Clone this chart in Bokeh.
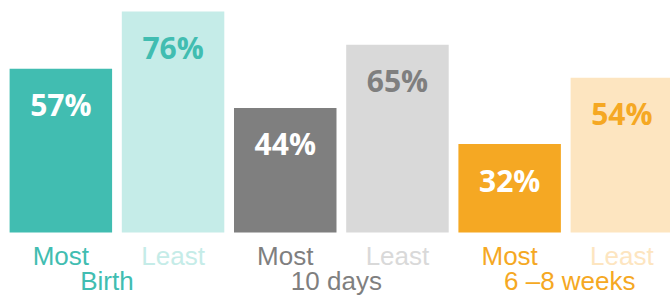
from bokeh.plotting import figure
from bokeh.models import ColumnDataSource, Range1d
from bokeh.core.properties import value
from bokeh.embed import file_html
from bokeh.resources import INLINE

# Data
groups = ["Birth", "10 days", "6 –8 weeks"]
kinds = ["Most", "Least", "Most", "Least", "Most", "Least"]
values = [57, 76, 44, 65, 32, 54]
value_labels = ["57%", "76%", "44%", "65%", "32%", "54%"]

# Styles
bar_colors = ["#41BDB1", "#C5ECE8", "#7F7F7F", "#D9D9D9", "#F5A823", "#FDE5C0"]
value_colors = ["#FFFFFF", "#41BDB1", "#FFFFFF", "#7F7F7F", "#FFFFFF", "#F5A823"]
group_colors = ["#41BDB1", "#7F7F7F", "#F5A823"]
group_label_shift = [-10, -5, 4]   # pixel nudges of the group labels

W, H = 670, 296
base_px = 232          # pixel row of the bar baseline
px_per_unit = 3.01
y0 = 2.6               # axis value at the baseline
x_pitch = 112.2
x_first = 60.35        # pixel of first bar centre

xs = list(range(len(values)))
src = ColumnDataSource(dict(x=xs, top=values, color=bar_colors,
                            label=value_labels, lcolor=value_colors))

p = figure(width=W, height=H, output_backend="svg", toolbar_location=None,
           x_axis_type=None, y_axis_type=None,
           min_border_left=0, min_border_right=0, min_border_top=0,
           min_border_bottom=0)
p.x_range = Range1d(-x_first / x_pitch, -x_first / x_pitch + W / x_pitch)
p.y_range = Range1d(y0 - (H - base_px) / px_per_unit, y0 + base_px / px_per_unit)
p.outline_line_color = None
p.grid.visible = False
p.background_fill_color = "white"
p.border_fill_color = "white"

p.vbar(x="x", top="top", bottom=y0, width=0.9135, fill_color="color",
       line_color=None, source=src)
p.text(x="x", y="top", text="label", text_color="lcolor", source=src,
       text_align="center", text_baseline="middle", y_offset=36,
       text_font=value("Open Sans"), text_font_style="bold",
       text_font_size="30px")

def y_at(px):
    return y0 - (px - base_px) / px_per_unit

ksrc = ColumnDataSource(dict(x=xs, text=kinds, color=bar_colors))
p.text(x="x", y=y_at(255), text="text", text_color="color", source=ksrc,
       text_align="center", text_baseline="alphabetic",
       text_font=value("Liberation Sans"), text_font_size="26px")

gsrc = ColumnDataSource(dict(x=[2 * g + 0.5 for g in range(len(groups))],
                             text=groups, color=group_colors,
                             dx=group_label_shift))
p.text(x="x", y=y_at(280), text="text", text_color="color", source=gsrc,
       x_offset="dx",
       text_align="center", text_baseline="alphabetic",
       text_font=value("Liberation Sans"), text_font_size="26px")

open("out.html", "w").write(file_html(p, INLINE))
